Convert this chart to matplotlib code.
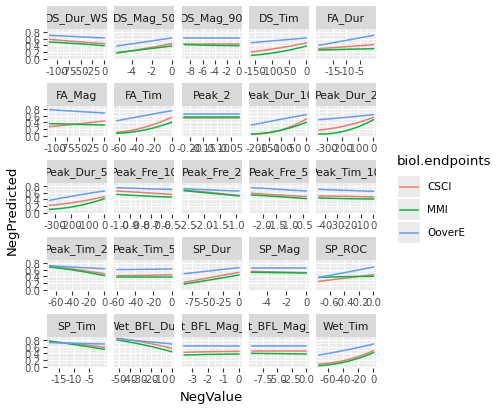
import numpy as np
import matplotlib
matplotlib.use("Agg")
import matplotlib.pyplot as plt
from matplotlib.ticker import AutoMinorLocator

metrics = ["DS_Dur_WS", "DS_Mag_50", "DS_Mag_90", "DS_Tim", "FA_Dur",
           "FA_Mag", "FA_Tim", "Peak_2", "Peak_Dur_10", "Peak_Dur_2",
           "Peak_Dur_5", "Peak_Fre_10", "Peak_Fre_2", "Peak_Fre_5", "Peak_Tim_10",
           "Peak_Tim_2", "Peak_Tim_5", "SP_Dur", "SP_Mag", "SP_ROC",
           "SP_Tim", "Wet_BFL_Dur", "Wet_BFL_Mag_10", "Wet_BFL_Mag_50", "Wet_Tim"]
x_min = [-115, -5.5, -9, -160, -20, -110, -62, -0.22, -220, -350,
         -330, -1.02, -2.6, -2.4, -45, -68, -60, -88, -5.5, -0.75,
         -18, -52, -3.5, -9.5, -72]
x_max = [0, 0, 0, 0, 0, 0, 0, -0.02, 0, 0,
         0, -0.5, -0.9, -0.4, 0, 0, 0, 0, 0, 0,
         0, 0, 0, 0, 0]
x_ticks = [[-100, -75, -50, -25, 0], [-4, -2, 0], [-8, -6, -4, -2, 0], [-150, -100, -50, 0], [-15, -10, -5],
           [-100, -75, -50, -25, 0], [-60, -40, -20, 0], [-0.20, -0.15, -0.10, -0.05], [-200, -150, -100, -50, 0], [-300, -200, -100, 0],
           [-300, -200, -100, 0], [-1.0, -0.9, -0.8, -0.7, -0.6, -0.5], [-2.5, -2.0, -1.5, -1.0], [-2.0, -1.5, -1.0, -0.5], [-40, -30, -20, -10, 0],
           [-60, -40, -20, 0], [-60, -40, -20, 0], [-75, -50, -25, 0], [-4, -2, 0], [-0.6, -0.4, -0.2, 0.0],
           [-15, -10, -5], [-50, -40, -30, -20, -10, 0], [-3, -2, -1, 0], [-7.5, -5.0, -2.5, 0.0], [-60, -40, -20, 0]]
x_labels = [["-100", "-75", "-50", "-25", "0"], ["-4", "-2", "0"], ["-8", "-6", "-4", "-2", "0"], ["-150", "-100", "-50", "0"], ["-15", "-10", "-5"],
            ["-100", "-75", "-50", "-25", "0"], ["-60", "-40", "-20", "0"], ["-0.20", "-0.15", "-0.10", "-0.05"], ["-200", "-150", "-100", "-50", "0"], ["-300", "-200", "-100", "0"],
            ["-300", "-200", "-100", "0"], ["-1.0", "-0.9", "-0.8", "-0.7", "-0.6", "-0.5"], ["-2.5", "-2.0", "-1.5", "-1.0"], ["-2.0", "-1.5", "-1.0", "-0.5"], ["-40", "-30", "-20", "-10", "0"],
            ["-60", "-40", "-20", "0"], ["-60", "-40", "-20", "0"], ["-75", "-50", "-25", "0"], ["-4", "-2", "0"], ["-0.6", "-0.4", "-0.2", "0.0"],
            ["-15", "-10", "-5"], ["-50", "-40", "-30", "-20", "-10", "0"], ["-3", "-2", "-1", "0"], ["-7.5", "-5.0", "-2.5", "0.0"], ["-60", "-40", "-20", "0"]]
# predicted values at start, middle, end of each panel's range
csci = [[.58, .51, .45], [.17, .30, .45], [.45, .45, .45], [.20, .32, .47], [.30, .36, .42],
        [.27, .35, .44], [.10, .25, .55], [.52, .52, .52], [.05, .15, .50], [.17, .30, .55],
        [.22, .32, .48], [.65, .60, .55], [.68, .60, .52], [.58, .53, .48], [.50, .49, .47],
        [.70, .60, .48], [.42, .43, .45], [.22, .37, .52], [.55, .53, .51], [.25, .35, .45],
        [.75, .68, .58], [.85, .73, .55], [.43, .45, .46], [.47, .47, .47], [.08, .20, .48]]
mmi = [[.50, .45, .39], [.18, .28, .38], [.42, .40, .39], [.10, .20, .38], [.26, .28, .30],
       [.36, .34, .32], [.07, .17, .40], [.57, .57, .57], [.05, .15, .40], [.05, .15, .48],
       [.10, .20, .42], [.55, .50, .47], [.66, .58, .50], [.53, .48, .42], [.44, .42, .41],
       [.68, .57, .42], [.38, .38, .38], [.17, .30, .44], [.52, .51, .50], [.37, .39, .40],
       [.77, .65, .52], [.80, .65, .45], [.35, .37, .38], [.40, .39, .38], [.03, .15, .42]]
oovere = [[.70, .66, .62], [.38, .50, .62], [.62, .62, .62], [.48, .55, .62], [.40, .55, .70],
          [.78, .73, .68], [.45, .60, .75], [.65, .65, .65], [.32, .48, .63], [.48, .55, .63],
          [.37, .52, .65], [.75, .72, .70], [.72, .68, .65], [.75, .70, .65], [.70, .67, .64],
          [.72, .67, .63], [.60, .61, .62], [.48, .57, .66], [.66, .66, .66], [.37, .52, .68],
          [.72, .70, .68], [.82, .76, .68], [.62, .62, .62], [.63, .63, .63], [.35, .50, .68]]
series = [("CSCI", csci, "#F8766D"), ("MMI", mmi, "#00BA38"), ("OoverE", oovere, "#619CFF")]

W, H = 503, 410
fig = plt.figure(figsize=(W / 100, H / 100), dpi=100)
fig.patch.set_facecolor("white")

left0, pw, gap = 47, 60, 7.3
strip_h, panel_h, pitch, top0 = 23, 31, 77, 7

for i, name in enumerate(metrics):
    r, c = divmod(i, 5)
    x0 = left0 + c * (pw + gap)
    ys = top0 + r * pitch
    sax = fig.add_axes([x0 / W, 1 - (ys + strip_h) / H, pw / W, strip_h / H])
    sax.set_facecolor("#D9D9D9")
    sax.set_xticks([]); sax.set_yticks([])
    for s in sax.spines.values():
        s.set_visible(False)
    sax.text(0.5, 0.5, name, ha="center", va="center", fontsize=7.8, color="#1A1A1A",
             transform=sax.transAxes, clip_on=True)
    py = ys + strip_h
    ax = fig.add_axes([x0 / W, 1 - (py + panel_h) / H, pw / W, panel_h / H])
    ax.set_facecolor("#EBEBEB")
    lo, hi = x_min[i], x_max[i]
    span = hi - lo
    ax.set_xlim(lo - 0.05 * span, hi + 0.05 * span)
    ax.set_ylim(-0.04, 0.89)
    xs = np.array([lo, (lo + hi) / 2, hi])
    xf = np.linspace(lo, hi, 50)
    for lab, vals, col in series:
        coef = np.polyfit(xs, vals[i], 2)
        ax.plot(xf, np.polyval(coef, xf), color=col, lw=1.1)
    ax.set_xticks(x_ticks[i])
    ax.set_xticklabels(x_labels[i])
    ax.set_yticks([0, 0.2, 0.4, 0.6, 0.8])
    ax.xaxis.set_minor_locator(AutoMinorLocator(2))
    ax.yaxis.set_minor_locator(AutoMinorLocator(2))
    ax.grid(True, which="major", color="white", lw=0.9)
    ax.grid(True, which="minor", color="white", lw=0.45)
    ax.set_axisbelow(True)
    for s in ax.spines.values():
        s.set_visible(False)
    ax.tick_params(which="major", length=3, color="#333333", labelsize=7.3, labelcolor="#4D4D4D", pad=1.5)
    ax.tick_params(which="minor", length=0)
    if c == 0:
        ax.set_yticklabels(["0.0", "0.2", "0.4", "0.6", "0.8"])
    else:
        ax.tick_params(axis="y", which="major", length=0, labelleft=False)

fig.text(12 / W, 1 - 210 / H, "NegPredicted", rotation=90, ha="center", va="center", fontsize=9.5)
fig.text(211 / W, 1 - 398 / H, "NegValue", ha="center", va="center", fontsize=9.5)

fig.text(397 / W, 1 - 162 / H, "biol.endpoints", ha="left", va="center", fontsize=9.5)
for k, (lab, vals, col) in enumerate(series):
    ky = 177 + k * 23
    kax = fig.add_axes([398 / W, 1 - (ky + 21) / H, 22 / W, 21 / H])
    kax.set_facecolor("#EBEBEB")
    kax.set_xlim(0, 1); kax.set_ylim(0, 1)
    kax.plot([0.1, 0.9], [0.5, 0.5], color=col, lw=1.1)
    kax.set_xticks([]); kax.set_yticks([])
    for s in kax.spines.values():
        s.set_visible(False)
    fig.text(427 / W, 1 - (ky + 10.5) / H, lab, ha="left", va="center", fontsize=7.5)

fig.savefig("out.png", dpi=100)
